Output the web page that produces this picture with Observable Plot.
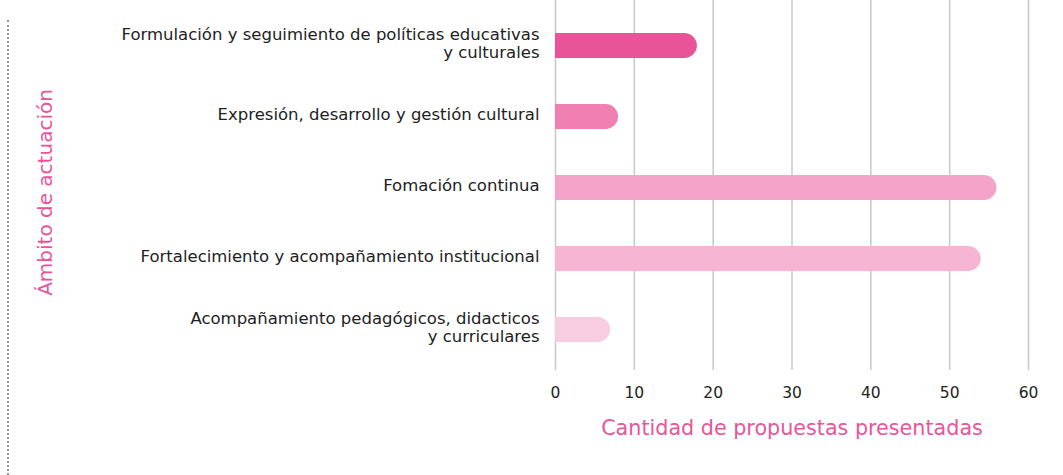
<!DOCTYPE html>
<html>
<head>
<meta charset="utf-8">
<script src="https://cdn.jsdelivr.net/npm/d3@7"></script>
<script src="https://cdn.jsdelivr.net/npm/@observablehq/plot@0.6"></script>
<style>
  html, body { margin: 0; padding: 0; background: #fff; }
  #wrap { position: relative; width: 1063px; height: 475px; }
  #dots { position: absolute; left: 7px; top: 20px; height: 455px; border-left: 2px dotted #999; }
</style>
</head>
<body>
<div id="wrap"><div id="dots"></div></div>
<script>
const categories = [
  "Formulación y seguimiento de políticas educativas\ny culturales",
  "Expresión, desarrollo y gestión cultural",
  "Fomación continua",
  "Fortalecimiento y acompañamiento institucional",
  "Acompañamiento pedagógicos, didacticos\ny curriculares"
];
const values = [18, 8, 56, 54, 7];
const colors = ["#E85497", "#EF80B1", "#F3A4C8", "#F5B5D3", "#F8CCE1"];
const xTicks = [0, 10, 20, 30, 40, 50, 60];
const xTitle = "Cantidad de propuestas presentadas";
const yTitle = "Ámbito de actuación";

const data = categories.map((c, i) => ({cat: c, value: values[i], color: colors[i]}));
const font = "DejaVu Sans, sans-serif";

const chart = Plot.plot({
  width: 1063,
  height: 475,
  marginLeft: 555,
  marginRight: 35,
  marginTop: 0,
  marginBottom: 109,
  style: {fontFamily: font, fontSize: "15px", color: "#222", background: "transparent"},
  x: {domain: [0, 60], ticks: xTicks, label: null},
  y: {domain: categories, paddingInner: 0.65, paddingOuter: 0.393, align: 0.58, label: null},
  marks: [
    Plot.ruleX(xTicks, {stroke: "#c8c8c8", strokeWidth: 1.5, strokeOpacity: 1}),
    Plot.axisX({ticks: xTicks, tickSize: 4, stroke: "#c8c8c8", strokeWidth: 1.5, tickPadding: 16, fontSize: 15.5, fill: "#222"}),
    Plot.axisY({tickSize: 0, tickPadding: 16, dy: -3, fontSize: 16.5, fill: "#222", lineHeight: 1.1}),
    Plot.barX(data, {y: "cat", x1: 0, x2: "value", fill: "color", rx: 12.5}),
    Plot.barX(data, {y: "cat", x1: 0, x2: d => d.value / 2, fill: "color"}),
    Plot.text([yTitle], {x: 0, frameAnchor: "middle", dx: -510, dy: 9, rotate: -90, textAnchor: "middle", fill: "#E8559A", fontSize: 20, text: d => d}),
    Plot.text([xTitle], {frameAnchor: "bottom", dy: 68, fill: "#E8559A", fontSize: 20.7, text: d => d})
  ]
});
document.getElementById("wrap").appendChild(chart);
chart.style.position = "absolute";
chart.style.left = "0";
chart.style.top = "0";
</script>
</body>
</html>
